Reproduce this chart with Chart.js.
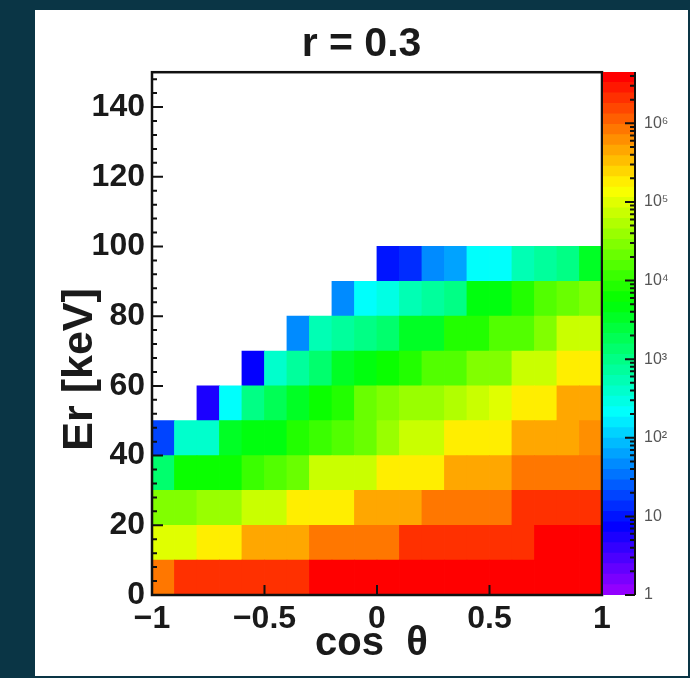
<!DOCTYPE html>
<html>
<head>
<meta charset="utf-8">
<title>r = 0.3</title>
<script src="https://cdn.jsdelivr.net/npm/chart.js@4.4.1/dist/chart.umd.min.js"></script>
<style>
  html, body { margin: 0; padding: 0; width: 690px; height: 678px; overflow: hidden; background: #0a3545; }
  #panel { position: absolute; left: 35px; top: 10px; width: 653px; height: 666px; background: #ffffff; }
  #main { position: absolute; left: 0; top: 0; }
  #cbar { position: absolute; left: 602px; top: 0; }
</style>
</head>
<body>
<div id="panel"></div>
<canvas id="main" width="690" height="678"></canvas>
<canvas id="cbar" width="88" height="678"></canvas>
<script>
// ---------- texts ----------
const titleText = 'r = 0.3';
const xAxisTitle = 'cos  θ';
const yAxisTitle = 'Er [keV]';

// ---------- bins and ticks ----------
const cosEdges = [-1, -0.9, -0.8, -0.7, -0.6, -0.5, -0.4, -0.3, -0.2, -0.1, 0, 0.1, 0.2, 0.3, 0.4, 0.5, 0.6, 0.7, 0.8, 0.9, 1];
const erEdges = [0, 10, 20, 30, 40, 50, 60, 70, 80, 90, 100];
const xTickValues = [-1, -0.5, 0, 0.5, 1];
const xTickLabels = ['\u22121', '\u22120.5', '0', '0.5', '1'];
const yTickValues = [0, 20, 40, 60, 80, 100, 120, 140];
const yTickLabels = ['0', '20', '40', '60', '80', '100', '120', '140'];
const yMinorStep = 4;
const zTickValues = [1, 10, 100, 1000, 10000, 100000, 1000000];
const zTickLabels = ['1', '10', '10\u00B2', '10\u00B3', '10\u2074', '10\u2075', '10\u2076'];
const xRange = [-1, 1];
const yRange = [0, 150];
const zMin = 1;
const zMax = 4500000;
const nColors = 50;

// ---------- counts: one array per Er bin, one value per cos θ bin (null = empty) ----------
const er0to10   = [800000, 2000000, 2050000, 2100000, 2100000, 2150000, 2200000, 3400000, 3500000, 3600000, 3700000, 3750000, 3800000, 3850000, 3900000, 3950000, 4000000, 4050000, 4100000, 4200000];
const er10to20  = [95000, 105000, 180000, 190000, 440000, 460000, 480000, 820000, 850000, 880000, 900000, 1900000, 2000000, 2000000, 2100000, 2200000, 2300000, 3400000, 3500000, 3600000];
const er20to30  = [30000, 32000, 38000, 40000, 70000, 75000, 170000, 180000, 190000, 430000, 460000, 480000, 800000, 830000, 860000, 900000, 1900000, 2000000, 2100000, 2200000];
const er30to40  = [1400, 6000, 6200, 7000, 11000, 15000, 20000, 70000, 73000, 76000, 170000, 180000, 190000, 440000, 460000, 480000, 800000, 840000, 880000, 920000];
const er40to50  = [16, 400, 450, 3000, 4500, 4800, 8000, 11000, 15000, 21000, 38000, 70000, 75000, 170000, 180000, 190000, 430000, 450000, 470000, 600000];
const er50to60  = [null, null, 5.4, 210, 1000, 1800, 3200, 6000, 8500, 21000, 29000, 38000, 40000, 50000, 70000, 100000, 170000, 190000, 440000, 470000];
const er60to70  = [null, null, null, null, 7.3, 400, 730, 1350, 3000, 4500, 6000, 7500, 14000, 15000, 28000, 29000, 70000, 78000, 170000, 190000];
const er70to80  = [null, null, null, null, null, null, 40, 500, 750, 1000, 1300, 3300, 3800, 7500, 8000, 14000, 15000, 28000, 70000, 75000];
const er80to90  = [null, null, null, null, null, null, null, null, 42, 210, 270, 500, 700, 1000, 4000, 4500, 7500, 14000, 20000, 28000];
const er90to100 = [null, null, null, null, null, null, null, null, null, null, 10, 15, 42, 62, 210, 220, 500, 800, 1000, 3500];
const erRows = [er0to10, er10to20, er20to30, er30to40, er40to50, er50to60, er60to70, er70to80, er80to90, er90to100];

// ---------- palette (violet -> red, 50 levels, log z) ----------
function levelColor(i) {
  const hue = 280 - (i + 1) * (280 / nColors);
  return 'hsl(' + Math.max(0, hue).toFixed(2) + ', 100%, 50%)';
}
function colorFor(v) {
  const L = Math.log10(zMax / zMin);
  let i = Math.floor(nColors * Math.log10(v / zMin) / L);
  i = Math.max(0, Math.min(nColors - 1, i));
  return levelColor(i);
}

const fam = "'Liberation Sans', Arial, Helvetica, sans-serif";
const ink = '#1a1a1a';

const cellDatasets = erRows.map((row, r) => {
  const pts = [];
  const cols = [];
  row.forEach((v, c) => {
    if (v === null) return;
    pts.push({ x: (cosEdges[c] + cosEdges[c + 1]) / 2, y: [erEdges[r], erEdges[r + 1]] });
    cols.push(colorFor(v));
  });
  return {
    label: erEdges[r] + '-' + erEdges[r + 1] + ' keV',
    data: pts,
    backgroundColor: cols,
    borderWidth: 0,
    grouped: false,
    barPercentage: 1,
    categoryPercentage: 1,
    inflateAmount: 0.4
  };
});

// frame with inward ticks, ROOT style
const rootFrame = {
  id: 'rootFrame',
  afterDatasetsDraw(chart) {
    const { ctx, chartArea: a } = chart;
    const x = chart.scales.x, y = chart.scales.y;
    ctx.save();
    ctx.strokeStyle = '#111';
    ctx.lineWidth = 2;
    ctx.beginPath();
    for (let v = yRange[0]; v <= yRange[1] + 1e-9; v += yMinorStep) {
      const p = y.getPixelForValue(v);
      const major = yTickValues.indexOf(v) >= 0;
      ctx.moveTo(a.left, p);
      ctx.lineTo(a.left + (major ? 11 : 5), p);
    }
    xTickValues.forEach(v => {
      const p = x.getPixelForValue(v);
      ctx.moveTo(p, a.bottom);
      ctx.lineTo(p, a.bottom - 10);
    });
    ctx.stroke();
    ctx.lineWidth = 2.5;
    ctx.strokeRect(a.left, a.top, a.right - a.left, a.bottom - a.top);
    ctx.restore();
  }
};

new Chart(document.getElementById('main'), {
  type: 'bar',
  data: { datasets: cellDatasets },
  options: {
    responsive: false,
    animation: false,
    events: [],
    layout: { padding: { left: 35, top: 10, right: 2, bottom: 2 } },
    plugins: {
      legend: { display: false },
      tooltip: { enabled: false },
      title: {
        display: true, text: titleText, color: ink,
        font: { family: fam, size: 41, weight: 'bold' },
        padding: { top: 10, bottom: 3 }
      }
    },
    scales: {
      x: {
        type: 'linear', min: xRange[0], max: xRange[1], offset: false,
        grid: { display: false, offset: false, drawTicks: false },
        border: { display: false },
        afterBuildTicks: s => { s.ticks = xTickValues.map(v => ({ value: v })); },
        ticks: {
          callback: (v, i) => xTickLabels[i], color: ink, autoSkip: false, maxRotation: 0,
          font: { family: fam, size: 32, weight: 'bold' }, padding: 5
        },
        title: {
          display: true, text: xAxisTitle + ' ', color: ink,
          font: { family: fam, size: 40, weight: 'bold' }, padding: { top: 0, bottom: 8 }
        },
        afterFit: s => { s.height = 81; }
      },
      y: {
        type: 'linear', min: yRange[0], max: yRange[1],
        grid: { display: false, drawTicks: false },
        border: { display: false },
        afterBuildTicks: s => { s.ticks = yTickValues.map(v => ({ value: v })); },
        ticks: {
          callback: (v, i) => yTickLabels[i], color: ink, autoSkip: false,
          font: { family: fam, size: 32, weight: 'bold' }, padding: 7
        },
        title: {
          display: true, text: yAxisTitle + '      ', color: ink,
          font: { family: fam, size: 43, weight: 'bold' }, padding: { top: 19, bottom: 0 }
        },
        afterFit: s => { s.width = 117; }
      },
      zspace: {
        type: 'linear', position: 'right', display: true,
        grid: { display: false, drawTicks: false }, border: { display: false },
        ticks: { display: false },
        afterFit: s => { s.width = 86; }
      }
    }
  },
  plugins: [rootFrame]
});

// ---------- colour scale ----------
const bandDatasets = [];
for (let k = 0; k < nColors; k++) {
  const lo = zMin * Math.pow(zMax / zMin, k / nColors);
  const hi = zMin * Math.pow(zMax / zMin, (k + 1) / nColors);
  bandDatasets.push({
    data: [[lo, hi]], backgroundColor: levelColor(k), borderWidth: 0,
    grouped: false, barPercentage: 1, categoryPercentage: 1, inflateAmount: 0.4
  });
}

const colorbarAxis = {
  id: 'colorbarAxis',
  afterDatasetsDraw(chart) {
    const { ctx, chartArea: a } = chart;
    const y = chart.scales.y;
    ctx.save();
    ctx.strokeStyle = '#111';
    ctx.lineWidth = 2;
    ctx.beginPath();
    ctx.moveTo(a.right, a.top);
    ctx.lineTo(a.right, a.bottom);
    for (let d = zMin; d <= zMax; d *= 10) {
      for (let k = 1; k <= 9; k++) {
        const v = k * d;
        if (v > zMax) break;
        const p = y.getPixelForValue(v);
        ctx.moveTo(a.right, p);
        ctx.lineTo(a.right - (k === 1 ? 10 : 5), p);
      }
    }
    ctx.stroke();
    ctx.restore();
  }
};

new Chart(document.getElementById('cbar'), {
  type: 'bar',
  data: { labels: [''], datasets: bandDatasets },
  options: {
    responsive: false,
    animation: false,
    events: [],
    layout: { padding: { left: 1, top: 72, right: 2, bottom: 83 } },
    plugins: { legend: { display: false }, tooltip: { enabled: false }, title: { display: false } },
    scales: {
      x: { display: false },
      y: {
        type: 'logarithmic', position: 'right', min: zMin, max: zMax,
        grid: { display: false, drawTicks: false }, border: { display: false },
        afterBuildTicks: s => { s.ticks = zTickValues.map(v => ({ value: v })); },
        ticks: {
          callback: (v, i) => zTickLabels[i], color: '#555', autoSkip: false,
          font: { family: fam, size: 16 }, padding: 9
        },
        afterFit: s => { s.width = 53; }
      }
    }
  },
  plugins: [colorbarAxis]
});
</script>
</body>
</html>
